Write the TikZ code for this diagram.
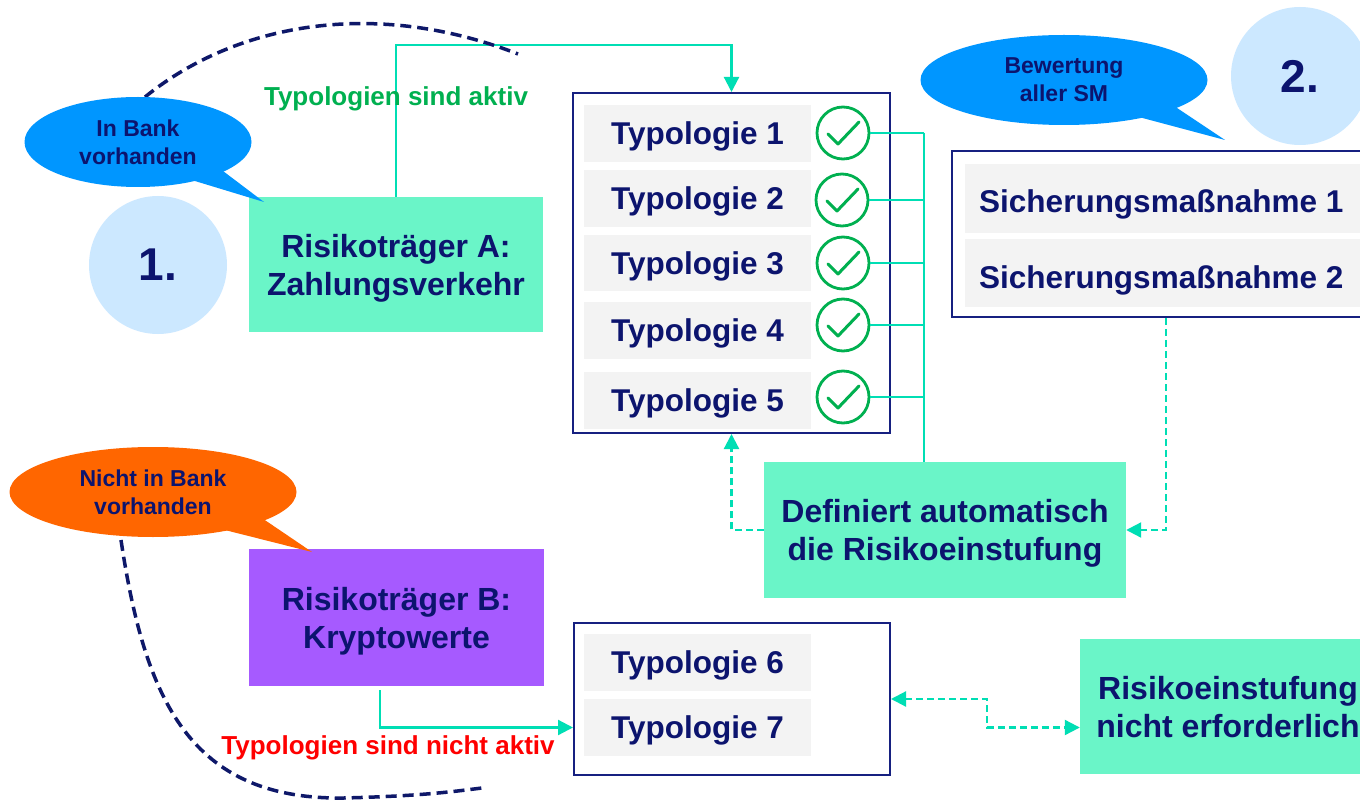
\documentclass[tikz,border=0pt]{standalone}
\usepackage{fontspec}
\setmainfont{Liberation Sans}
\usetikzlibrary{arrows.meta,shapes.geometric}
\definecolor{navytext}{RGB}{12,20,110}
\definecolor{framenavy}{RGB}{22,32,128}
\definecolor{curvenavy}{RGB}{14,24,105}
\definecolor{turq}{RGB}{0,222,180}
\definecolor{boxgreen}{RGB}{106,245,200}
\definecolor{boxpurple}{RGB}{166,90,255}
\definecolor{bubbleblue}{RGB}{0,150,255}
\definecolor{bubbleorange}{RGB}{255,102,0}
\definecolor{lightblue}{RGB}{204,232,255}
\definecolor{chkgreen}{RGB}{0,176,80}
\definecolor{rowgray}{RGB}{243,243,243}
\definecolor{labelred}{RGB}{255,0,0}
\tikzset{
  bigtext/.style={font=\bfseries\fontsize{32}{38}\selectfont, text=navytext, align=center},
  colbox/.style={bigtext, inner sep=0pt, text depth=0pt},
  rowbox/.style={fill=rowgray, inner sep=0pt, text depth=0pt, font=\bfseries\fontsize{31.5}{38}\selectfont, text=navytext},
  framebox/.style={draw=framenavy, line width=2pt, fill=white, inner sep=0pt},
  chk/.style={circle, draw=chkgreen, line width=2.8pt, minimum size=52pt, inner sep=0pt},
  chkmark/.style={draw=chkgreen, line width=3pt, line cap=round, line join=round},
  conn/.style={draw=turq, line width=2.2pt},
  dconn/.style={conn, dash pattern=on 7pt off 4pt},
  tipend/.style={-{Triangle[length=15pt,width=15pt]}},
  tipboth/.style={{Triangle[length=15pt,width=15pt]}-{Triangle[length=15pt,width=15pt]}},
  navydash/.style={draw=curvenavy, line width=3.5pt, dash pattern=on 11pt off 6pt},
  bubble/.style={ellipse, inner sep=0pt, font=\bfseries\fontsize{23}{28}\selectfont, text=navytext, align=center},
  numcirc/.style={circle, fill=lightblue, inner sep=0pt, minimum size=138pt, font=\bfseries\fontsize{46}{50}\selectfont, text=navytext},
  lbltext/.style={font=\bfseries\fontsize{26}{30}\selectfont}
}
\begin{document}
\begin{tikzpicture}[x=1pt,y=-1pt]
\useasboundingbox (0,0) rectangle (1360,802);
\clip (0,0) rectangle (1360,802);
\fill[white] (0,0) rectangle (1360,802);

% number circles
\node[numcirc] (n1) at (158,265) {1.};
\node[numcirc] (n2) at (1300,76) {2.};

% main boxes
\node[colbox, fill=boxgreen, minimum width=294pt, minimum height=135pt] (boxA) at (396,264.5) {Risikoträger A:\\Zahlungsverkehr};
\node[colbox, fill=boxpurple, minimum width=295pt, minimum height=137pt] (boxB) at (396.5,617.5) {Risikoträger B:\\Kryptowerte};
\node[colbox, fill=boxgreen, minimum width=362pt, minimum height=136pt] (defbox) at (945,530) {Definiert automatisch\\die Risikoeinstufung};
\node[colbox, fill=boxgreen, minimum width=296pt, minimum height=135pt] (risk) at (1228,706.5) {Risikoeinstufung\\nicht erforderlich};

% typology frame 1
\node[framebox, minimum width=317pt, minimum height=340pt] (typbox) at (731.5,263) {};
\node[rowbox, minimum width=227pt, minimum height=57pt] (t1) at (697.5,133.5) {Typologie 1};
\node[rowbox, minimum width=227pt, minimum height=57pt] (t2) at (697.5,198.5) {Typologie 2};
\node[rowbox, minimum width=227pt, minimum height=56pt] (t3) at (697.5,263) {Typologie 3};
\node[rowbox, minimum width=227pt, minimum height=57pt] (t4) at (697.5,330.5) {Typologie 4};
\node[rowbox, minimum width=227pt, minimum height=57pt] (t5) at (697.5,400.5) {Typologie 5};

% check circles
\node[chk] (c1) at (843,133) {};
\node[chk] (c2) at (842,200) {};
\node[chk] (c3) at (843,263) {};
\node[chk] (c4) at (843,325) {};
\node[chk] (c5) at (843,397) {};
\foreach \c in {c1,c2,c3,c4,c5}{
  \draw[chkmark] ([shift={(-15,1)}]\c.center) -- ([shift={(-5,11)}]\c.center) -- ([shift={(16,-11)}]\c.center);
}

% typology frame 2
\node[framebox, minimum width=316pt, minimum height=152pt] (typ2box) at (732,699) {};
\node[rowbox, minimum width=227pt, minimum height=57pt] (t6) at (697.5,662.5) {Typologie 6};
\node[rowbox, minimum width=227pt, minimum height=57pt] (t7) at (697.5,727.5) {Typologie 7};

% Sicherungsmassnahmen frame
\node[framebox, minimum width=428pt, minimum height=166pt] (smbox) at (1166,234) {};
\node[fill=rowgray, inner sep=0pt, minimum width=410pt, minimum height=69pt] (s1) at (1170,198.5) {};
\node[fill=rowgray, inner sep=0pt, minimum width=410pt, minimum height=68pt] (s2) at (1170,273) {};
\node[rowbox, fill=none, anchor=west] (s1t) at (979,201) {Sicherungsmaßnahme 1};
\node[rowbox, fill=none, anchor=west] (s2t) at (979,277) {Sicherungsmaßnahme 2};

% connectors
\draw[conn, tipend] (boxA.north) -- ++(0,-152) -| (typbox.north);
\coordinate (bus) at (924,133);
\foreach \c in {c1,c2,c3,c4,c5}{
  \draw[conn] (\c.east) -- (\c.east -| bus);
}
\draw[conn] (bus) -- (bus |- defbox.north);
\draw[dconn, tipend] (defbox.west) -| (typbox.south);
\draw[dconn, tipend] (smbox.south) |- (defbox.east);
\draw[conn, tipend] ([shift={(-16.5,4)}]boxB.south) |- (t7 -| typ2box.west);
\draw[dconn, tipboth] (typ2box.east) -- ++(96,0) |- (risk.west |- t7);

% labels
\node[lbltext, text=chkgreen] (lblA) at (396,99) {Typologien sind aktiv};
\node[lbltext, text=labelred] (lblB) at (388,748) {Typologien sind nicht aktiv};

% dashed navy curves
\draw[navydash] (145,97) .. controls (240,20) and (380,0) .. (518,54);
\draw[navydash] (121,540) .. controls (145,700) and (190,800) .. (344,798) .. controls (420,796) and (450,792) .. (482,788);

% speech bubbles
\fill[bubbleblue] (215,165) -- (264,202) -- (185,178) -- cycle;
\node[bubble, fill=bubbleblue, minimum width=227pt, minimum height=90pt] (bub1) at (138,142) {In Bank\\vorhanden};
\fill[bubbleblue] (1165,100) -- (1225,140) -- (1120,112) -- cycle;
\node[bubble, fill=bubbleblue, minimum width=287pt, minimum height=90pt] (bub2) at (1064,80) {Bewertung\\aller SM};
\fill[bubbleorange] (250,510) -- (312,552) -- (205,525) -- cycle;
\node[bubble, fill=bubbleorange, minimum width=287pt, minimum height=90pt] (bub3) at (153,492) {Nicht in Bank\\vorhanden};
\end{tikzpicture}
\end{document}
